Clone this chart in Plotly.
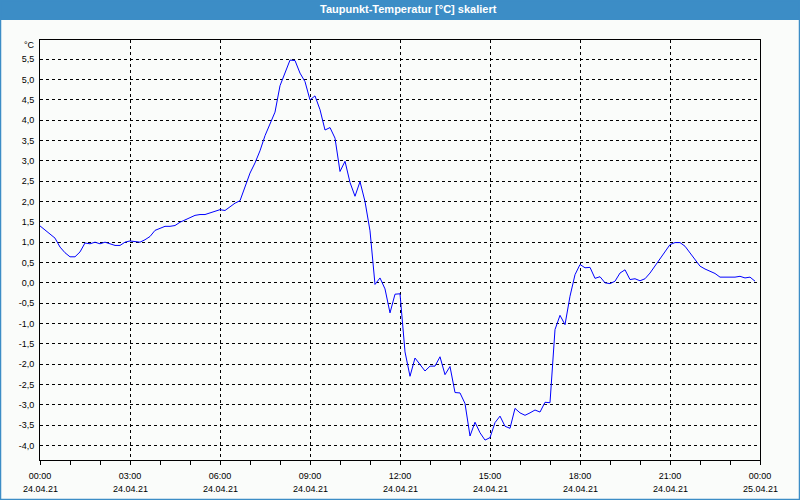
import pandas as pd
import plotly.graph_objects as go

# --- data -------------------------------------------------------------
start = "2021-04-24 00:00"
dewpoint = [
    1.40, 1.30, 1.18, 1.10, 0.88, 0.74, 0.64, 0.64, 0.76, 0.98,
    0.96, 1.00, 0.96, 1.00, 0.96, 0.92, 0.92, 1.00, 1.03, 1.01,
    1.00, 1.06, 1.14, 1.29, 1.35, 1.39, 1.39, 1.41, 1.49, 1.55,
    1.59, 1.66, 1.68, 1.68, 1.72, 1.76, 1.80, 1.78, 1.87, 1.96,
    2.02, 2.35, 2.70, 2.95, 3.25, 3.62, 3.90, 4.20, 4.85, 5.16,
    5.48, 5.47, 5.16, 4.95, 4.50, 4.60, 4.26, 3.76, 3.82, 3.56,
    2.74, 2.99, 2.47, 2.13, 2.49, 2.00, 1.28, -0.04, 0.12, -0.15,
    -0.74, -0.28, -0.27, -1.70, -2.30, -1.85, -2.01, -2.17, -2.05, -2.05,
    -1.82, -2.26, -2.06, -2.70, -2.71, -2.97, -3.77, -3.43, -3.69, -3.87,
    -3.81, -3.44, -3.28, -3.53, -3.58, -3.09, -3.20, -3.26, -3.20, -3.13,
    -3.18, -2.94, -2.95, -1.15, -0.80, -1.03, -0.33, 0.20, 0.45, 0.37,
    0.38, 0.11, 0.15, 0.00, -0.02, 0.04, 0.24, 0.32, 0.08, 0.10,
    0.05, 0.10, 0.24, 0.41, 0.57, 0.77, 0.94, 0.99, 0.99, 0.90,
    0.73, 0.57, 0.41, 0.34, 0.28, 0.23, 0.14, 0.14, 0.14, 0.14,
    0.16, 0.12, 0.14, 0.04,
]
times = pd.date_range(start, periods=len(dewpoint), freq="10min")

x_tick_vals = ["2021-04-24 00:00", "2021-04-24 03:00", "2021-04-24 06:00",
               "2021-04-24 09:00", "2021-04-24 12:00", "2021-04-24 15:00",
               "2021-04-24 18:00", "2021-04-24 21:00", "2021-04-25 00:00"]
x_tick_times = ["00:00", "03:00", "06:00", "09:00", "12:00", "15:00",
                "18:00", "21:00", "00:00"]
x_tick_dates = ["24.04.21", "24.04.21", "24.04.21", "24.04.21", "24.04.21",
                "24.04.21", "24.04.21", "24.04.21", "25.04.21"]
y_tick_vals = [-4.0, -3.5, -3.0, -2.5, -2.0, -1.5, -1.0, -0.5, 0.0, 0.5,
               1.0, 1.5, 2.0, 2.5, 3.0, 3.5, 4.0, 4.5, 5.0, 5.5]
y_tick_text = ["-4,0", "-3,5", "-3,0", "-2,5", "-2,0", "-1,5", "-1,0", "-0,5",
               "0,0", "0,5", "1,0", "1,5", "2,0", "2,5", "3,0", "3,5", "4,0",
               "4,5", "5,0", "5,5"]
title_text = "Taupunkt-Temperatur [°C] skaliert"
unit_text = "°C"

# --- figure -----------------------------------------------------------
W, H = 800, 500
ML, MR, MT, MB = 40, 40, 40, 40
PW, PH = W - ML - MR, H - MT - MB
BLUE = "#3c8dc6"
BG = "#fafcfa"
FONT = "Liberation Sans"


def px_x(p):
    return (p - ML) / PW


def px_y(p):
    return (H - MB - p) / PH


fig = go.Figure()
fig.add_trace(go.Scatter(x=times, y=dewpoint, mode="lines",
                         line=dict(color="#0000ff", width=1),
                         hoverinfo="skip", showlegend=False))

fig.update_layout(
    width=W, height=H,
    margin=dict(l=ML, r=MR, t=MT, b=MB, pad=0),
    paper_bgcolor=BG, plot_bgcolor=BG,
    font=dict(family=FONT, size=9, color="#000000"),
    showlegend=False,
)

fig.update_xaxes(
    range=["2021-04-24 00:00", "2021-04-25 00:00"],
    tickmode="array", tickvals=x_tick_vals, ticktext=x_tick_times,
    ticks="outside", ticklen=4, tickcolor="#000000", tickwidth=1,
    minor=dict(dtick=3600000, ticks="outside", ticklen=4,
               tickcolor="#000000", showgrid=False),
    showgrid=True, gridcolor="#000000", gridwidth=1, griddash="3px,3px",
    showline=True, linecolor="#000000", linewidth=1, mirror=True,
    zeroline=False, ticklabelstandoff=3,
    tickfont=dict(family=FONT, size=9, color="#000000"),
)
fig.update_yaxes(
    range=[-4.36, 5.975],
    tickmode="array", tickvals=y_tick_vals, ticktext=y_tick_text,
    ticks="", showgrid=True, gridcolor="#000000", gridwidth=1,
    griddash="3px,3px",
    showline=True, linecolor="#000000", linewidth=1, mirror=True,
    zeroline=False, ticklabelstandoff=3,
    tickfont=dict(family=FONT, size=9, color="#000000"),
)

# date line under the time labels
for tv, d in zip(x_tick_vals, x_tick_dates):
    fig.add_annotation(x=tv, xref="x", y=0, yref="paper", yshift=-29,
                       text=d, showarrow=False, xanchor="center",
                       yanchor="middle",
                       font=dict(family=FONT, size=9, color="#000000"))

# unit label
fig.add_annotation(x=px_x(37), xref="paper", y=px_y(45), yref="paper",
                   text=unit_text, showarrow=False, xanchor="right",
                   yanchor="middle", font=dict(family=FONT, size=9))

# title bar
fig.add_shape(type="rect", xref="paper", yref="paper",
              x0=px_x(0), x1=px_x(W), y0=px_y(20), y1=px_y(0),
              fillcolor=BLUE, line=dict(width=0), layer="below")
fig.add_annotation(x=px_x(408), xref="paper", y=px_y(9), yref="paper",
                   text="<b>" + title_text + "</b>", showarrow=False,
                   xanchor="center", yanchor="middle",
                   font=dict(family=FONT, size=11, color="#ffffff"))
# window border
fig.add_shape(type="rect", xref="paper", yref="paper",
              x0=px_x(0.5), x1=px_x(W - 0.5), y0=px_y(H - 0.5), y1=px_y(0.5),
              fillcolor="rgba(0,0,0,0)", line=dict(color=BLUE, width=1.5))

fig.write_html(
    "out.html",
    config={"displayModeBar": False},
    post_script="document.body.style.margin='0';"
                "document.body.style.overflow='hidden';",
)
